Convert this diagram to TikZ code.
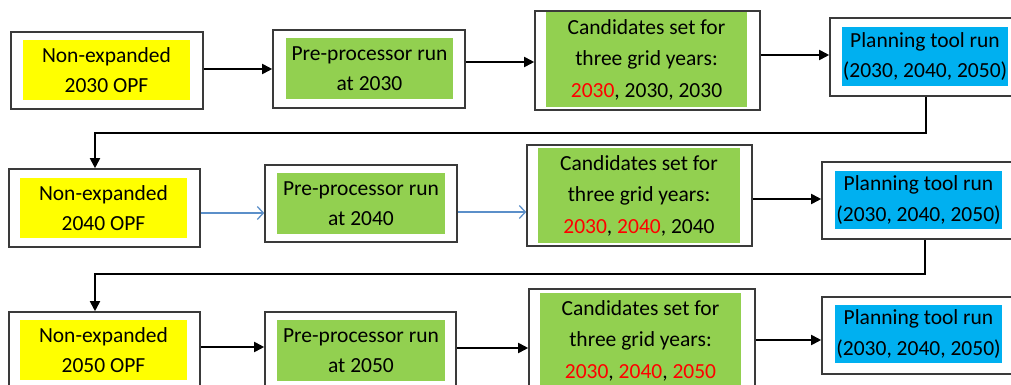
\documentclass[tikz,border=0pt]{standalone}
\usepackage{fontspec}
\setmainfont{Carlito}
\usetikzlibrary{arrows.meta,fit}
\definecolor{ylw}{HTML}{FFFF00}
\definecolor{grn}{HTML}{92D050}
\definecolor{blu}{HTML}{00B0F0}
\definecolor{frame}{HTML}{3A3A3A}
\definecolor{lnblue}{HTML}{5B8FC9}
\definecolor{yr}{HTML}{FF0000}
\newcommand{\candtext}[1]{\raisebox{-4pt}{\begin{tabular}{@{}c@{}}Candidates set for\\three grid years:\\#1\end{tabular}}}
\begin{document}
\begin{tikzpicture}[x=1pt,y=-1pt,
  outer/.style={draw=frame, line width=1.6pt, fill=white, inner sep=0pt},
  inner/.style={inner sep=0pt, align=center, font=\fontsize{21.5}{30.5}\selectfont, text=black},
  cand/.style={inner sep=0pt, font=\fontsize{21.5}{31.5}\selectfont, text=black},
  arr/.style={line width=1.8pt, -{Triangle[length=10pt,width=10pt]}},
  barr/.style={line width=1.3pt, draw=lnblue, -{Straight Barb[length=6pt,width=13pt]}}]
\useasboundingbox (0,0) rectangle (1011,385);
\fill[white] (0,0) rectangle (1011,385);
\clip (0,0) rectangle (1011,385);

% Row 1
\node[outer, fit={(11,32) (203,109)}] (a1) {};
\node[inner, fill=ylw, minimum width=167pt, minimum height=60pt] (a1t) at (106.5,70) {Non-expanded\\2030 OPF};
\node[outer, fit={(273,30) (465,108)}] (b1) {};
\node[inner, fill=grn, minimum width=167pt, minimum height=61pt] (b1t) at (369.5,68.5) {Pre-processor run\\at 2030};
\node[outer, fit={(535,11) (760,110)}] (c1) {};
\node[cand, fill=grn, minimum width=201pt, minimum height=85pt] (c1t) at (646.5,59.5) {\candtext{{\color{yr}2030}, 2030, 2030}};
\node[outer, fit={(830,18) (1022,96)}] (d1) {};
\node[inner, fill=blu, minimum width=166pt, minimum height=59pt] (d1t) at (925,56.5) {Planning tool run\\(2030, 2040, 2050)};

% Row 2
\node[outer, fit={(9,169) (200,247)}] (a2) {};
\node[inner, fill=ylw, minimum width=167pt, minimum height=60pt] (a2t) at (103.5,208) {Non-expanded\\2040 OPF};
\node[outer, fit={(265,165) (457,242)}] (b2) {};
\node[inner, fill=grn, minimum width=168pt, minimum height=61pt] (b2t) at (361,203.5) {Pre-processor run\\at 2040};
\node[outer, fit={(527,145) (752,246)}] (c2) {};
\node[cand, fill=grn, minimum width=202pt, minimum height=83pt] (c2t) at (639,195.5) {\candtext{{\color{yr}2030}, {\color{yr}2040}, 2040}};
\node[outer, fit={(822,162) (1028,239)}] (d2) {};
\node[inner, fill=blu, minimum width=167pt, minimum height=58pt] (d2t) at (918.5,200) {Planning tool run\\(2030, 2040, 2050)};

% Row 3
\node[outer, fit={(9,312) (200,390)}] (a3) {};
\node[inner, fill=ylw, minimum width=167pt, minimum height=60pt] (a3t) at (103.5,350) {Non-expanded\\2050 OPF};
\node[outer, fit={(265,312) (456,390)}] (b3) {};
\node[inner, fill=grn, minimum width=168pt, minimum height=61pt] (b3t) at (361,350.5) {Pre-processor run\\at 2050};
\node[outer, fit={(529,289) (755,392)}] (c3) {};
\node[cand, fill=grn, minimum width=201pt, minimum height=85pt] (c3t) at (640.5,340.5) {\candtext{{\color{yr}2030}, {\color{yr}2040}, {\color{yr}2050}}};
\node[outer, fit={(822,297) (1028,374)}] (d3) {};
\node[inner, fill=blu, minimum width=167pt, minimum height=58pt] (d3t) at (918.5,334) {Planning tool run\\(2030, 2040, 2050)};

% Row 1 connectors
\draw[arr] ([yshift=1.5pt]a1.east) -- ([yshift=1.5pt]a1.east -| b1.west);
\draw[arr] ([yshift=7pt]b1.east) -- ([yshift=7pt]b1.east -| c1.west);
\draw[arr] ([yshift=5.5pt]c1.east) -- ([yshift=5.5pt]c1.east -| d1.west);

% Loop 1
\coordinate (l1r) at (926,133);
\coordinate (l1l) at (95,133);
\draw[arr] (d1.south -| l1r) -- (l1r) -- (l1l) -- (l1l |- a2.north);

% Row 2 connectors
\draw[barr] ([yshift=-5pt]a2.east) -- ([yshift=-5pt]a2.east -| b2.west);
\draw[barr] ([yshift=-8.5pt]b2.east) -- ([yshift=-8.5pt]b2.east -| c2.west);
\draw[arr] ([yshift=-3.5pt]c2.east) -- ([yshift=-3.5pt]c2.east -| d2.west);

% Loop 2
\coordinate (l2r) at (925,274);
\coordinate (l2l) at (95,274);
\draw[arr] (d2.south -| l2r) -- (l2r) -- (l2l) -- (l2l |- a3.north);

% Row 3 connectors
\draw[arr] ([yshift=4pt]a3.east) -- ([yshift=4pt]a3.east -| b3.west);
\draw[arr] ([yshift=3pt]b3.east) -- ([yshift=3pt]b3.east -| c3.west);
\draw[arr] ([yshift=0.5pt]c3.east) -- ([yshift=0.5pt]c3.east -| d3.west);
\end{tikzpicture}
\end{document}
